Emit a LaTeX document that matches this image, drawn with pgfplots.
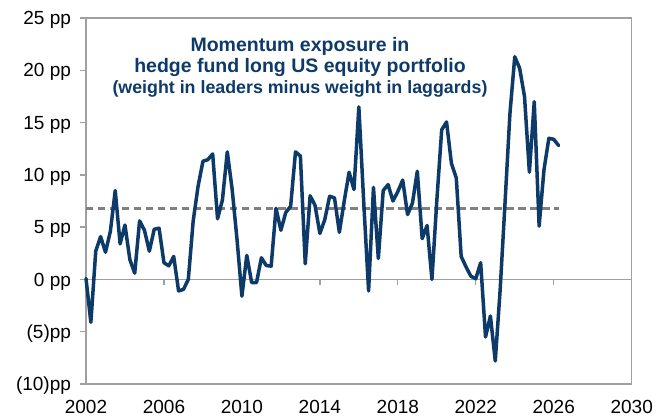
\documentclass[border=0pt]{standalone}
\usepackage{fontspec}
\setmainfont{Liberation Sans}
\usepackage{pgfplots}
\usepackage{pgfplotstable}
\pgfplotsset{compat=1.18}
\definecolor{navy}{HTML}{0D3A68}
\definecolor{axgray}{HTML}{A0A0A0}
\definecolor{dashgray}{HTML}{808080}
\pgfplotstableread{
year value
2002.00 0.1
2002.25 -4.1
2002.50 2.7
2002.75 4.1
2003.00 2.6
2003.25 4.6
2003.50 8.5
2003.75 3.4
2004.00 5.2
2004.25 1.9
2004.50 0.6
2004.75 5.6
2005.00 4.7
2005.25 2.7
2005.50 4.8
2005.75 4.9
2006.00 1.6
2006.25 1.3
2006.50 2.2
2006.75 -1.1
2007.00 -0.95
2007.25 0.0
2007.50 5.6
2007.75 8.9
2008.00 11.3
2008.25 11.45
2008.50 12.0
2008.75 5.8
2009.00 7.6
2009.25 12.2
2009.50 8.6
2009.75 3.8
2010.00 -1.6
2010.25 2.3
2010.50 -0.3
2010.75 -0.3
2011.00 2.07
2011.25 1.33
2011.50 1.27
2011.75 6.8
2012.00 4.7
2012.25 6.4
2012.50 7.0
2012.75 12.2
2013.00 11.8
2013.25 1.5
2013.50 8.0
2013.75 7.1
2014.00 4.4
2014.25 5.7
2014.50 7.95
2014.75 7.8
2015.00 4.5
2015.25 7.5
2015.50 10.25
2015.75 8.6
2016.00 16.5
2016.25 7.4
2016.50 -1.1
2016.75 8.8
2017.00 2.0
2017.25 8.5
2017.50 9.07
2017.75 7.5
2018.00 8.4
2018.25 9.5
2018.50 6.2
2018.75 7.3
2019.00 10.35
2019.25 3.9
2019.50 5.16
2019.75 0.0
2020.00 7.5
2020.25 14.3
2020.50 15.06
2020.75 11.1
2021.00 9.7
2021.25 2.2
2021.50 1.2
2021.75 0.3
2022.00 0.07
2022.25 1.6
2022.50 -5.5
2022.75 -3.5
2023.00 -7.8
2023.25 -1.0
2023.50 7.3
2023.75 15.8
2024.00 21.3
2024.25 20.2
2024.50 17.5
2024.75 10.25
2025.00 17.0
2025.25 5.1
2025.50 10.5
2025.75 13.5
2026.00 13.4
2026.25 12.8
}\momentum
\begin{document}
\begin{tikzpicture}
\begin{axis}[
  scale only axis, width=545.7pt, height=366pt,
  xmin=2, xmax=30, ymin=-10, ymax=25,
  axis line style={axgray, line width=1.3pt},
  xtick={2,6,10,14,18,22,26,30},
  xticklabels={2002,2006,2010,2014,2018,2022,2026,2030},
  ytick={-10,-5,0,5,10,15,20,25},
  yticklabels={(10)pp,(5)pp,0 pp,5 pp,10 pp,15 pp,20 pp,25 pp},
  xtick pos=bottom, ytick pos=left,
  tick align=outside,
  major tick length=6pt,
  major x tick style={draw=none},
  major y tick style={axgray, line width=1.3pt},
  x tick label style={font=\fontsize{19}{21}\selectfont, anchor=base, yshift=-23.3pt},
  y tick label style={font=\fontsize{19}{21}\selectfont, anchor=base east, yshift=-6.7pt, xshift=-5.5pt},
  clip=false,
]
\draw[axgray, line width=1.3pt] (axis cs:2,0) -- (axis cs:30,0);
\pgfplotsinvokeforeach{6,10,14,18,22,26,30}{
  \draw[axgray, line width=1.3pt] (axis cs:#1,0) -- ([yshift=-5.5pt]axis cs:#1,0);
}
\addplot[dashgray, line width=3pt, dash pattern=on 7.5pt off 4.5pt] coordinates {(2,6.8) (26.25,6.8)};
\addplot[navy, line width=3.5pt, line join=round, line cap=round] table[x expr=\thisrow{year}-2000, y=value] {\momentum};
\node[anchor=base, text=navy, font=\fontsize{19.5}{21}\bfseries\selectfont] at (axis cs:12.98,21.78) {Momentum exposure in};
\node[anchor=base, text=navy, font=\fontsize{19.5}{21}\bfseries\selectfont] at (axis cs:12.98,19.77) {hedge fund long US equity portfolio};
\node[anchor=base, text=navy, font=\fontsize{17.8}{21}\bfseries\selectfont] at (axis cs:12.98,17.80) {(weight in leaders minus weight in laggards)};
\end{axis}
\pgfresetboundingbox
\path[use as bounding box] (-86pt,-32pt) rectangle (579pt,384pt);
\end{tikzpicture}
\end{document}
